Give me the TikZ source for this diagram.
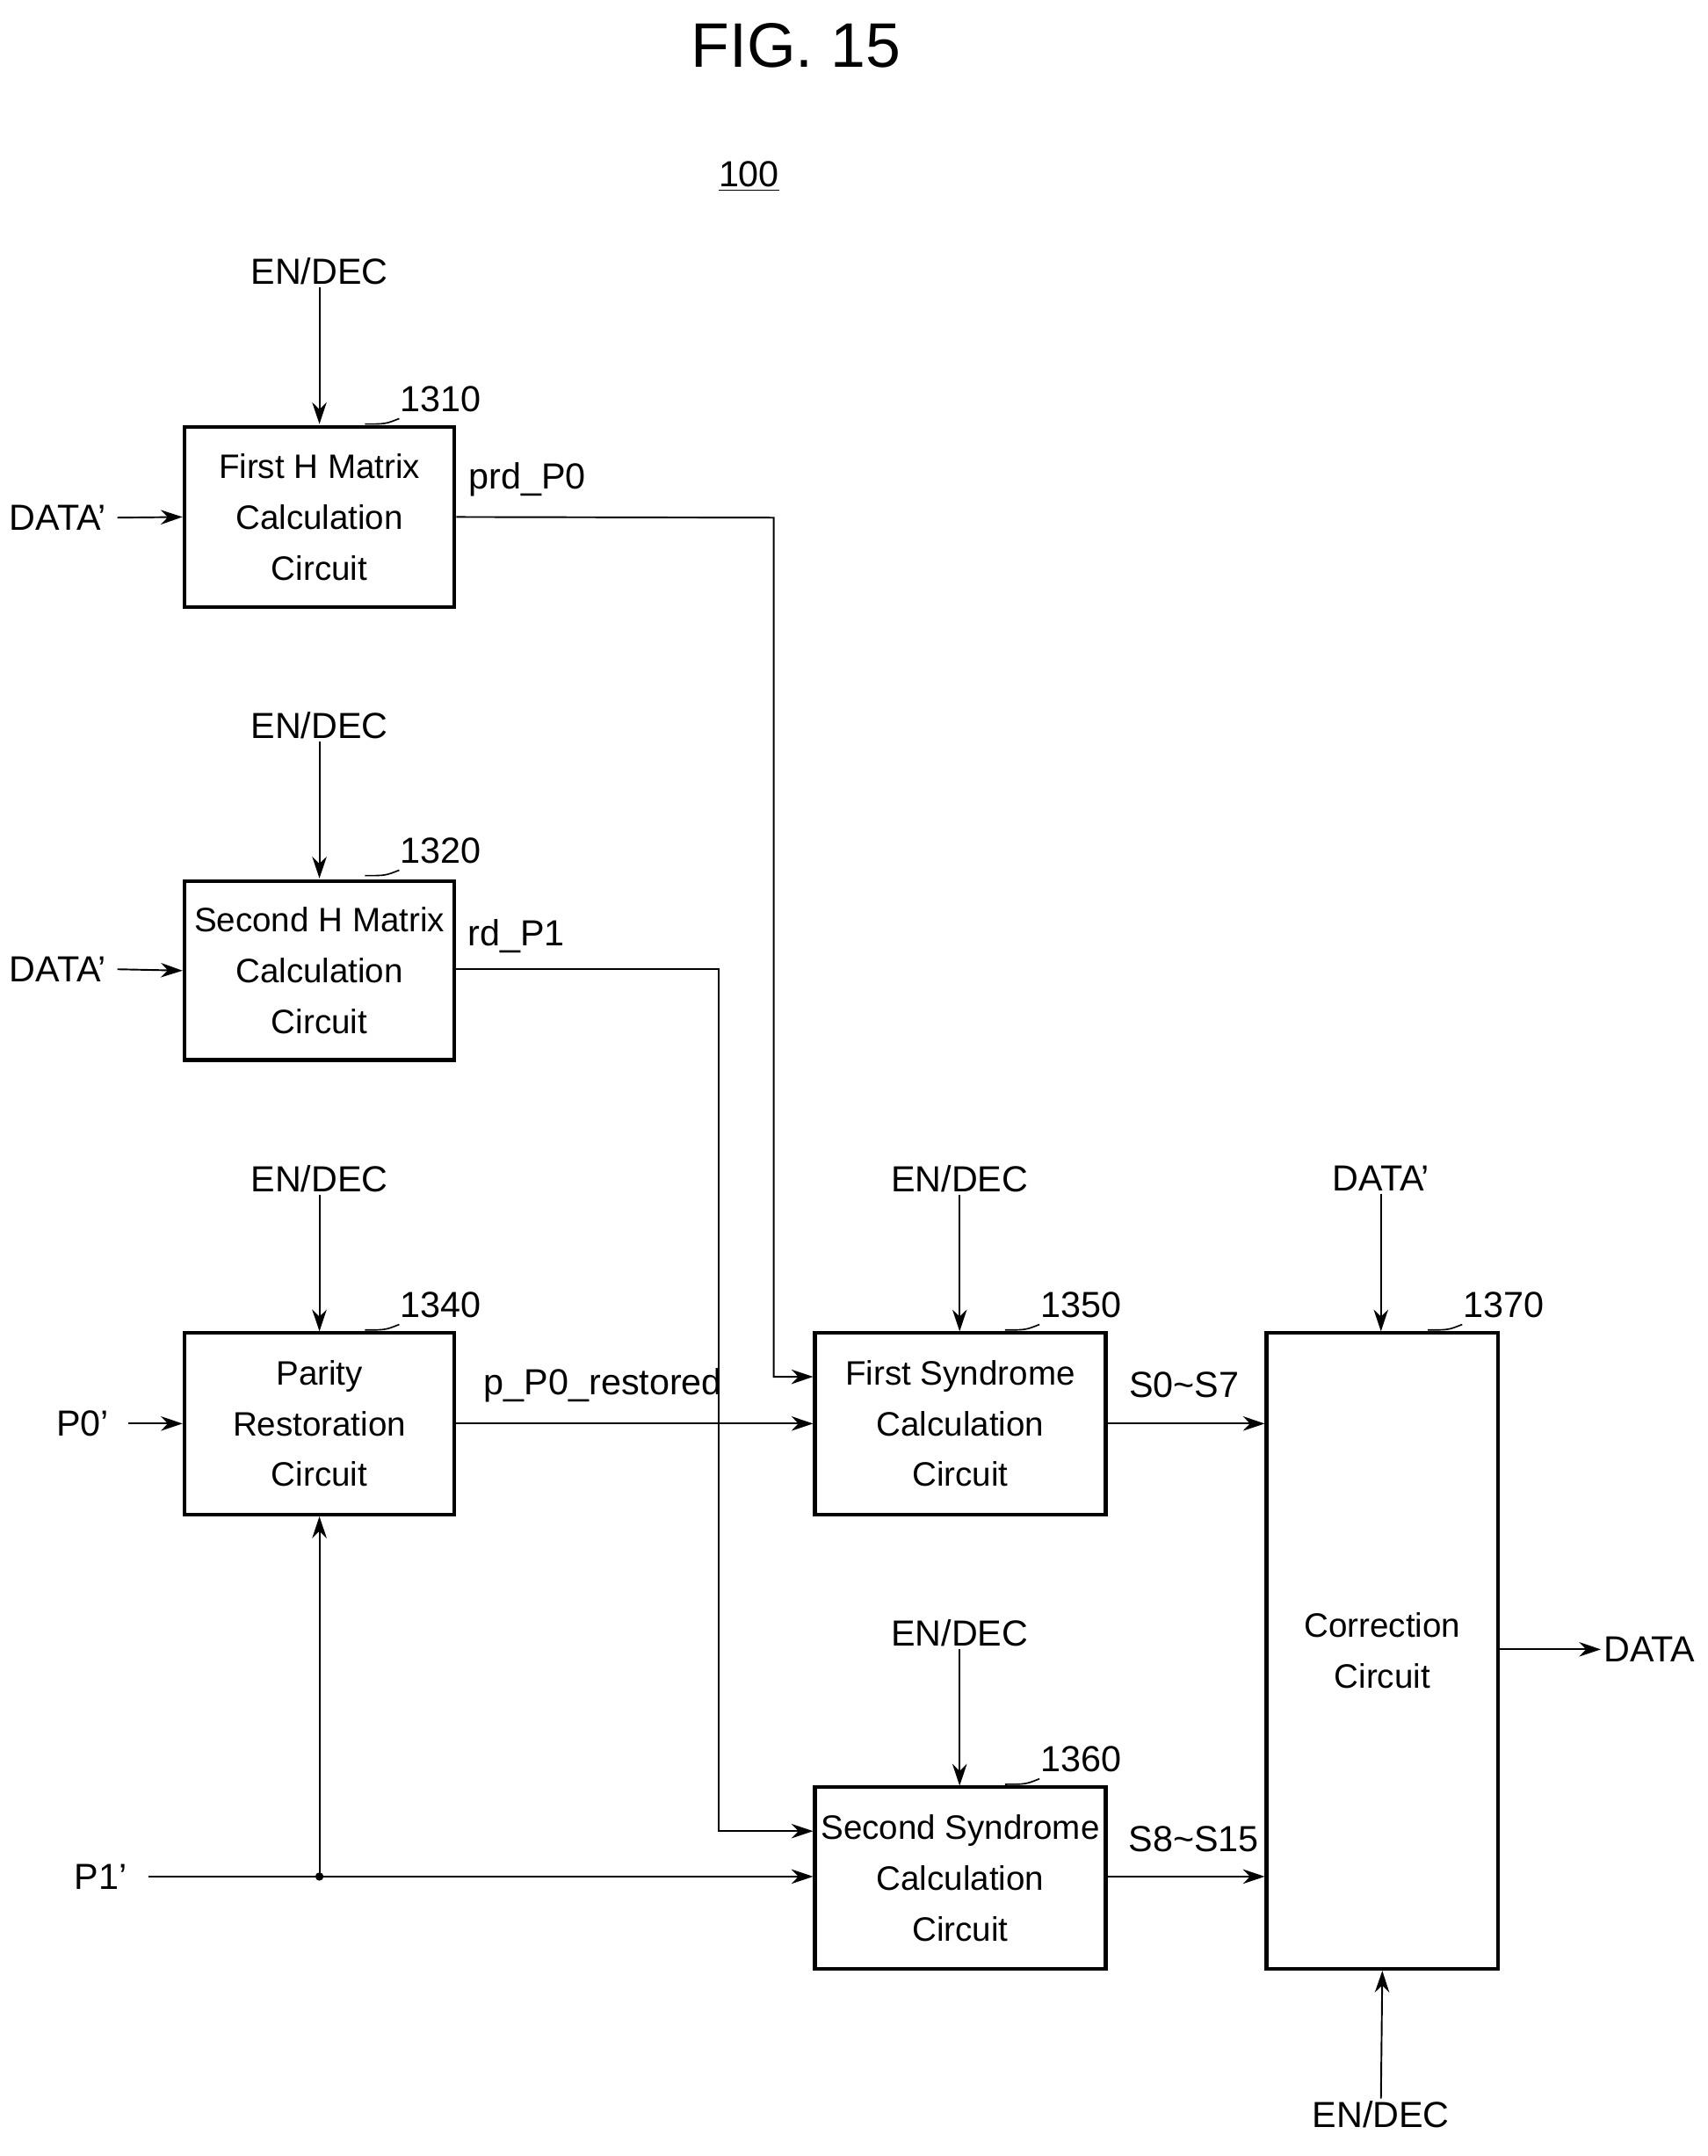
\documentclass[tikz,border=0pt]{standalone}
\usepackage{fontspec}
\setmainfont{Liberation Sans}
\usetikzlibrary{calc,arrows.meta}
\begin{document}
\begin{tikzpicture}[x=0.02cm,y=-0.02cm,
  blk/.style={draw,line width=1.6pt,inner sep=0pt,align=center,font=\fontsize{14}{21}\selectfont},
  lbl/.style={font=\fontsize{15}{18}\selectfont,inner sep=1pt},
  sig/.style={-{Stealth[length=9pt,width=6pt]},line width=0.7pt}]
  \useasboundingbox (0,0) rectangle (1240,1566);
  \node[font=\fontsize{26}{30}\selectfont] (fig) at (578,33) {FIG. 15};
  \node[lbl] (num) at (544,128) {\underline{100}};
  %blocks
  \node[blk,minimum width=196*0.02cm,minimum height=131*0.02cm] (h1) at (232,375.5) {First H Matrix\\Calculation\\Circuit};
  \node[blk,minimum width=196*0.02cm,minimum height=130*0.02cm] (h2) at (232,705) {Second H Matrix\\Calculation\\Circuit};
  \node[blk,minimum width=196*0.02cm,minimum height=132*0.02cm] (pr) at (232,1034) {Parity\\Restoration\\Circuit};
  \node[blk,minimum width=211*0.02cm,minimum height=132*0.02cm] (s1) at (697.5,1034) {First Syndrome\\Calculation\\Circuit};
  \node[blk,minimum width=211*0.02cm,minimum height=132*0.02cm] (s2) at (697.5,1364) {Second Syndrome\\Calculation\\Circuit};
  \node[blk,minimum width=168*0.02cm,minimum height=462*0.02cm] (cc) at (1004,1199) {Correction\\Circuit};
  %reference numbers
  \foreach \b/\r/\x/\y in {h1/1310/320/290, h2/1320/320/618, pr/1340/320/948, s1/1350/785/948, s2/1360/785/1278, cc/1370/1092/948}{
    \node[lbl] (r\r) at (\x,\y) {\r};
    \draw[line width=0.6pt] (\x-30,\y+14) .. controls (\x-40,\y+18) .. (\x-55,\y+18);
  }
  %inputs from above
  \foreach \b/\t/\x/\y in {h1/EN\slash DEC/232/197, h2/EN\slash DEC/232/527, pr/EN\slash DEC/232/856, s1/EN\slash DEC/697/856, s2/EN\slash DEC/697/1186, cc/DATA'/1003/856}{
    \node[lbl] (in\b) at (\x,\y) {\t};
    \draw[sig] (in\b.south) -- (\x,\y+111);
  }
  %inputs from left
  \node[lbl] (d1) at (42,376) {DATA'};
  \node[lbl] (d2) at (42,704) {DATA'};
  \node[lbl] (p0) at (60,1034) {P0'};
  \node[lbl] (p1) at (73,1363) {P1'};
  \draw[sig] (d1.east) ++(6,0) -- (h1.west);
  \draw[sig] (d2.east) ++(6,0) -- (h2.west);
  \draw[sig] (p0.east) ++(12,0) -- (pr.west);
  %connections
  \draw[sig] (h1.east) -- (562,376) -- (562,1000) -- (s1.west |- 0,1000);
  \draw[sig] (h2.east |- 0,704) -- (522,704) -- (522,1330) -- (s2.west |- 0,1330);
  \draw[sig] (pr.east) -- (s1.west);
  \coordinate (j) at (232,1363);
  \draw[sig] (p1.east) ++(14,0) -- (s2.west |- j);
  \draw[sig] (j) -- (pr.south);
  \fill (j) circle (3);
  \node[lbl] (l1) at (383,348) {prd\_P0};
  \node[lbl] (l2) at (375,680) {rd\_P1};
  \node[lbl] (l3) at (438,1006) {p\_P0\_restored};
  %syndromes
  \draw[sig] (s1.east) -- (cc.west |- s1.east);
  \draw[sig] (s2.east |- 0,1363) -- (cc.west |- 0,1363);
  \node[lbl] (l4) at (860,1006) {S0\textasciitilde S7};
  \node[lbl] (l5) at (867,1336) {S8\textasciitilde S15};
  %output
  \node[lbl] (out) at (1198,1198) {DATA};
  \draw[sig] (cc.east |- out) -- (out.west);
  \node[lbl] (en) at (1003,1536) {EN/DEC};
  \draw[sig] (en.north) -- (cc.south);
\end{tikzpicture}
\end{document}
